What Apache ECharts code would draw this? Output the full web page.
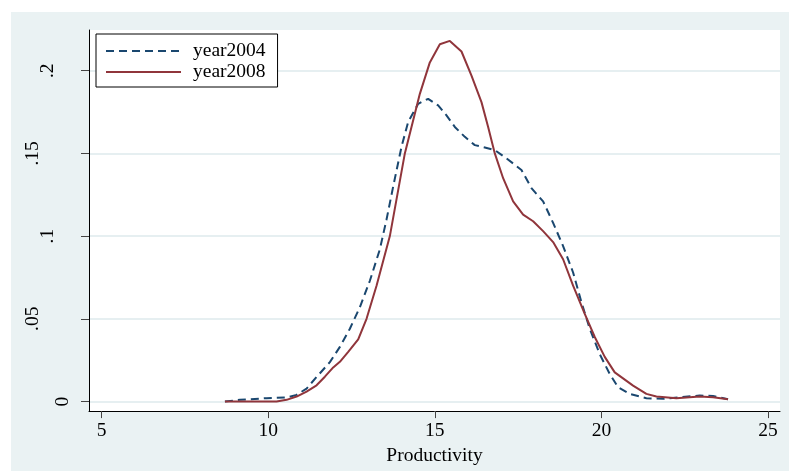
<!DOCTYPE html>
<html>
<head>
<meta charset="utf-8">
<script src="https://cdn.jsdelivr.net/npm/echarts@6/dist/echarts.min.js"></script>
<style>
  body { margin: 0; background: #fff; }
  #bg { position: absolute; left: 11px; top: 12px; width: 778px; height: 459px; background: #eaf2f3; }
  #chart { position: absolute; left: 0; top: 0; width: 789px; height: 471px; }
</style>
</head>
<body>
<div id="bg"></div>
<div id="chart"></div>
<script>
// kernel density estimates
const x2004 = [8.7, 9.15, 9.95, 10.55, 10.85, 11.15, 11.45, 11.85, 12.15, 12.45, 12.75, 13.05, 13.35, 13.55, 13.75, 14.0, 14.2, 14.5, 14.8, 15.1, 15.35, 15.6, 15.9, 16.2, 16.5, 16.8, 17.15, 17.6, 17.9, 18.25, 18.55, 18.85, 19.15, 19.4, 19.65, 19.95, 20.25, 20.5, 20.85, 21.35, 21.85, 22.35, 22.95, 23.35, 23.8]
const y2004 = [0, 0.001, 0.002, 0.0024, 0.004, 0.0078, 0.0148, 0.0238, 0.033, 0.044, 0.057, 0.073, 0.092, 0.11, 0.13, 0.154, 0.169, 0.18, 0.183, 0.179, 0.173, 0.166, 0.16, 0.155, 0.1536, 0.152, 0.147, 0.14, 0.129, 0.121, 0.108, 0.094, 0.078, 0.06, 0.044, 0.0286, 0.0166, 0.0086, 0.0046, 0.002, 0.0016, 0.0026, 0.0036, 0.0034, 0.0014]

const x2008 = [8.7, 9.5, 10.25, 10.55, 10.85, 11.15, 11.45, 11.7, 11.95, 12.15, 12.4, 12.7, 12.95, 13.25, 13.65, 14.1, 14.55, 14.85, 15.15, 15.45, 15.8, 16.1, 16.4, 16.6, 16.8, 17.05, 17.35, 17.65, 17.95, 18.25, 18.55, 18.85, 19.15, 19.5, 19.8, 20.1, 20.4, 20.95, 21.35, 21.65, 22.25, 22.95, 23.35, 23.8]
const y2008 = [0, 0, 0, 0.001, 0.003, 0.006, 0.0098, 0.015, 0.0206, 0.024, 0.03, 0.0376, 0.05, 0.07, 0.1, 0.15, 0.186, 0.205, 0.216, 0.218, 0.2116, 0.197, 0.181, 0.166, 0.15, 0.135, 0.121, 0.113, 0.109, 0.103, 0.0964, 0.086, 0.07, 0.053, 0.039, 0.027, 0.0176, 0.0096, 0.0046, 0.003, 0.002, 0.003, 0.0026, 0.0014]

const xTicks = [5, 10, 15, 20, 25]
const yTicks = [0, 0.05, 0.1, 0.15, 0.2]
const yTickLabels = ['0', '.05', '.1', '.15', '.2']

const font = 'Liberation Serif'

function pairs(xs, ys) {
  return xs.map((x, i) => [x, ys[i]])
}

function yLabel(v) {
  const i = yTicks.findIndex(t => Math.abs(t - v) < 1e-9)
  if (i < 0) return ''
  const s = yTickLabels[i]
  return '{p' + s.length + '|' + s + '}'
}

const chart = echarts.init(document.getElementById('chart'))
chart.setOption({
  animation: false,
  textStyle: { fontFamily: font, color: '#000' },
  grid: {
    left: 89, right: 9, top: 30, bottom: 57,
    show: true, backgroundColor: '#fff', borderWidth: 0
  },
  legend: {
    orient: 'vertical',
    left: 96, top: 34,
    padding: [7, 12, 5, 9],
    itemGap: 1,
    itemWidth: 75,
    itemHeight: 14,
    backgroundColor: '#fff',
    borderColor: '#000',
    borderWidth: 1,
    borderRadius: 0,
    itemStyle: { color: 'transparent', borderWidth: 0, opacity: 0 },
    textStyle: { fontFamily: font, fontSize: 19.5, lineHeight: 20, color: '#000', padding: [0, 0, 0, 7] },
    data: ['year2004', 'year2008']
  },
  xAxis: {
    type: 'value',
    min: 4.62, max: 25.36,
    name: 'Productivity',
    nameLocation: 'middle',
    nameGap: 23,
    nameTextStyle: { fontFamily: font, fontSize: 19.5, color: '#000' },
    axisLine: { onZero: false, lineStyle: { color: '#000', width: 1 } },
    axisTick: { length: 7, customValues: xTicks, lineStyle: { color: '#444' } },
    axisLabel: { customValues: xTicks, margin: 10, fontFamily: font, fontSize: 19.5, color: '#000' },
    splitLine: { show: false }
  },
  yAxis: {
    type: 'value',
    min: -0.0058, max: 0.2246,
    axisLine: { show: true, onZero: false, lineStyle: { color: '#000', width: 1 } },
    axisTick: { show: true, length: 8, customValues: yTicks, lineStyle: { color: '#444' } },
    axisLabel: {
      customValues: yTicks,
      rotate: 90,
      margin: 16,
      fontFamily: font, fontSize: 19.5, color: '#000',
      formatter: yLabel,
      rich: {
        p1: { fontFamily: font, fontSize: 19.5, color: '#000', padding: [0, 0, 0, 0] },
        p2: { fontFamily: font, fontSize: 19.5, color: '#000', padding: [0, 0, 15, 0] },
        p3: { fontFamily: font, fontSize: 19.5, color: '#000', padding: [0, 0, 30, 0] }
      }
    },
    splitLine: { show: true, lineStyle: { color: '#e6eff1', width: 2 } }
  },
  series: [
    {
      name: 'year2004',
      type: 'line',
      data: pairs(x2004, y2004),
      symbol: 'none',
      lineStyle: { color: '#1a476f', width: 2, type: [8, 5] },
      itemStyle: { color: '#1a476f' }
    },
    {
      name: 'year2008',
      type: 'line',
      data: pairs(x2008, y2008),
      symbol: 'none',
      lineStyle: { color: '#90353b', width: 2 },
      itemStyle: { color: '#90353b' }
    }
  ]
})
</script>
</body>
</html>
